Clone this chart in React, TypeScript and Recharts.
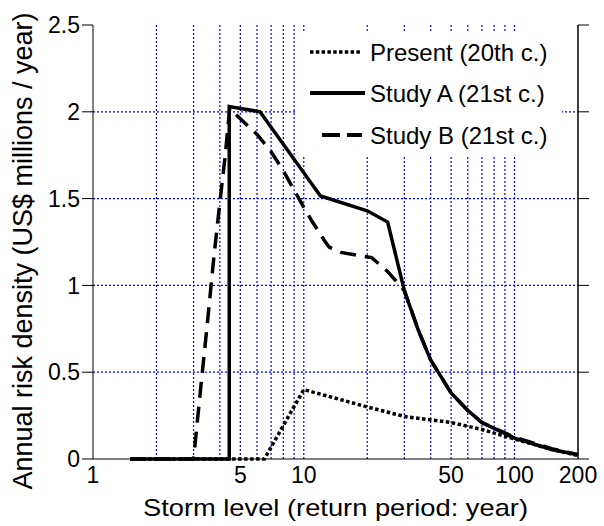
import React from 'react';
import { LineChart, Line, XAxis, YAxis, ReferenceLine, Legend } from 'recharts';

// ---- data ----
const presentX = [1.5, 2, 3, 4, 5, 6.5, 10, 20, 30, 50, 70, 100, 150, 200];
const presentY = [0, 0, 0, 0, 0, 0, 0.4, 0.3, 0.245, 0.21, 0.17, 0.115, 0.055, 0.02];

const studyAX = [1.5, 4.43, 4.43, 6.2, 12, 20, 25, 30, 35, 40, 50, 60, 70, 100, 150, 200];
const studyAY = [0, 0, 2.03, 2.0, 1.515, 1.43, 1.365, 0.97, 0.74, 0.57, 0.38, 0.28, 0.21, 0.12, 0.055, 0.025];

const studyBX = [1.5, 3, 3.25, 3.5, 3.75, 4, 4.25, 4.45, 5, 6, 7, 8, 10, 11, 12.5, 13.2, 15, 21, 25, 30, 35, 40, 50, 60, 70, 100, 150, 200];
const studyBY = [0, 0, 0.42, 0.8, 1.17, 1.48, 1.76, 2.02, 1.96, 1.87, 1.77, 1.66, 1.45, 1.365, 1.26, 1.22, 1.19, 1.16, 1.08, 0.97, 0.74, 0.57, 0.38, 0.28, 0.21, 0.125, 0.06, 0.025];

const seriesNames = ['Present (20th c.)', 'Study A (21st c.)', 'Study B (21st c.)'];

// ---- ticks / grid ----
const xTickLabels = [1, 5, 10, 50, 100, 200];
const xMinorTicks = [2, 3, 4, 5, 6, 7, 8, 9, 10, 20, 30, 40, 50, 60, 70, 80, 90, 100];
const xGrid = [2, 3, 4, 5, 6, 7, 8, 9, 10, 20, 30, 40, 50, 60, 70, 80, 90, 100];
const yTicks = [0, 0.5, 1, 1.5, 2, 2.5];
const yMinorTicks = [0.1, 0.2, 0.3, 0.4, 0.6, 0.7, 0.8, 0.9, 1.1, 1.2, 1.3, 1.4, 1.6, 1.7, 1.8, 1.9, 2.1, 2.2, 2.3, 2.4];
const yGrid = [0.5, 1, 1.5, 2];

const xTitle = 'Storm level (return period: year)';
const yTitle = 'Annual risk density (US$ millions / year)';

const toPoints = (xs: number[], ys: number[]) => xs.map((x, i) => ({ x, y: ys[i] }));
const presentData = toPoints(presentX, presentY);
const studyAData = toPoints(studyAX, studyAY);
const studyBData = toPoints(studyBX, studyBY);

const FONT = '"Liberation Sans", Arial, Helvetica, sans-serif';
const GRID = '#0000ff';
const empty = () => '';

const XTitle = (props: any) => {
  const vb = props.viewBox || { x: 93, y: 459, width: 485, height: 50 };
  return (
    <text
      x={vb.x + vb.width / 2}
      y={vb.y + 57}
      textAnchor="middle"
      fontSize={24}
      fill="#000"
      fontFamily={FONT}
      textLength={385}
      lengthAdjust="spacingAndGlyphs"
    >
      {xTitle}
    </text>
  );
};

const YTitle = (props: any) => {
  const vb = props.viewBox || { x: 33, y: 25, width: 60, height: 434 };
  const cx = vb.x - 1;
  const cy = vb.y + vb.height / 2 + 9;
  return (
    <text
      transform={`translate(${cx},${cy}) rotate(-90)`}
      x={0}
      y={0}
      textAnchor="middle"
      fontSize={27}
      fill="#000"
      fontFamily={FONT}
    >
      {yTitle}
    </text>
  );
};

const LegendBox = () => {
  const rows = [21, 62, 104];
  return (
    <svg width={266} height={126} style={{ display: 'block' }}>
      <line x1={14} x2={66} y1={rows[0]} y2={rows[0]} stroke="#000" strokeWidth={3.5} strokeDasharray="3.5 2.3" />
      <line x1={14} x2={69} y1={rows[1]} y2={rows[1]} stroke="#000" strokeWidth={4} />
      <line x1={26} x2={66} y1={rows[2]} y2={rows[2]} stroke="#000" strokeWidth={4} strokeDasharray="18 7" />
      {seriesNames.map((n, i) => (
        <text key={n} x={74} y={rows[i] + 8.5} fontSize={24} fill="#000" fontFamily={FONT}>
          {n}
        </text>
      ))}
    </svg>
  );
};

export default function App() {
  return (
    <div style={{ position: 'absolute', left: 0, top: 0, width: 604, height: 526, background: '#fff' }}>
      <LineChart
        width={604}
        height={526}
        margin={{ top: 25, right: 16, bottom: 17, left: 33 }}
        style={{ fontFamily: FONT }}
      >
        {/* main bottom axis with labels */}
        <XAxis
          xAxisId="b"
          dataKey="x"
          type="number"
          scale="log"
          domain={[1, 200]}
          ticks={xTickLabels}
          tickLine={false}
          tickSize={0}
          tickMargin={8}
          height={50}
          axisLine={{ stroke: '#000', strokeWidth: 1 }}
          tick={{ fill: '#000', fontSize: 23, fontFamily: FONT }}
          label={XTitle}
        />
        {/* inward minor ticks at bottom */}
        <XAxis
          xAxisId="bm"
          type="number"
          scale="log"
          domain={[1, 200]}
          allowDataOverflow
          orientation="bottom"
          mirror
          ticks={xMinorTicks}
          tickSize={5}
          tickFormatter={empty}
          axisLine={false}
          tickLine={{ stroke: '#000' }}
          height={0}
        />
        {/* top border with inward ticks */}
        <XAxis
          xAxisId="t"
          type="number"
          scale="log"
          domain={[1, 200]}
          allowDataOverflow
          orientation="top"
          mirror
          ticks={xMinorTicks}
          tickSize={5}
          tickFormatter={empty}
          axisLine={{ stroke: '#000', strokeWidth: 1 }}
          tickLine={{ stroke: '#000' }}
          height={0}
        />
        {/* left main axis */}
        <YAxis
          yAxisId="l"
          type="number"
          domain={[0, 2.5]}
          ticks={yTicks}
          tickSize={11}
          tickMargin={2}
          width={60}
          axisLine={{ stroke: '#000', strokeWidth: 1 }}
          tickLine={{ stroke: '#000' }}
          tick={{ fill: '#000', fontSize: 23, fontFamily: FONT }}
          label={YTitle}
        />
        <YAxis
          yAxisId="lm"
          type="number"
          domain={[0, 2.5]}
          allowDataOverflow
          mirror
          ticks={yMinorTicks}
          tickSize={6}
          tickFormatter={empty}
          axisLine={false}
          tickLine={{ stroke: '#000' }}
          width={0}
        />
        {/* right border */}
        <YAxis
          yAxisId="r"
          orientation="right"
          type="number"
          domain={[0, 2.5]}
          allowDataOverflow
          ticks={yTicks}
          tickSize={11}
          tickFormatter={empty}
          width={10}
          axisLine={{ stroke: '#000', strokeWidth: 1.5 }}
          tickLine={{ stroke: '#000' }}
        />
        <YAxis
          yAxisId="rm"
          orientation="right"
          mirror
          type="number"
          domain={[0, 2.5]}
          allowDataOverflow
          ticks={yTicks}
          tickSize={10}
          tickFormatter={empty}
          width={0}
          axisLine={false}
          tickLine={{ stroke: '#000' }}
        />
        <YAxis
          yAxisId="rm2"
          orientation="right"
          mirror
          type="number"
          domain={[0, 2.5]}
          allowDataOverflow
          ticks={yMinorTicks}
          tickSize={6}
          tickFormatter={empty}
          width={0}
          axisLine={false}
          tickLine={{ stroke: '#000' }}
        />

        {xGrid.map((v) => (
          <ReferenceLine
            key={`gx${v}`}
            xAxisId="b"
            yAxisId="l"
            x={v}
            stroke={GRID}
            strokeWidth={1.2}
            strokeDasharray="2 2"
          />
        ))}
        {yGrid.map((v) => (
          <ReferenceLine
            key={`gy${v}`}
            xAxisId="b"
            yAxisId="l"
            y={v}
            stroke={GRID}
            strokeWidth={1.2}
            strokeDasharray="2 2"
          />
        ))}

        <Line
          xAxisId="b"
          yAxisId="l"
          data={presentData}
          dataKey="y"
          name={seriesNames[0]}
          type="linear"
          stroke="#000"
          strokeWidth={3.5}
          strokeDasharray="3.5 2.5"
          dot={false}
          activeDot={false}
          isAnimationActive={false}
        />
        <Line
          xAxisId="b"
          yAxisId="l"
          data={studyAData}
          dataKey="y"
          name={seriesNames[1]}
          type="linear"
          stroke="#000"
          strokeWidth={3.5}
          dot={false}
          activeDot={false}
          isAnimationActive={false}
        />
        <Line
          xAxisId="b"
          yAxisId="l"
          data={studyBData}
          dataKey="y"
          name={seriesNames[2]}
          type="linear"
          stroke="#000"
          strokeWidth={3.5}
          strokeDasharray="16 9"
          dot={false}
          activeDot={false}
          isAnimationActive={false}
        />

        <Legend
          layout="horizontal"
          verticalAlign="middle"
          align="center"
          wrapperStyle={{ position: 'absolute', left: 296, top: 31, width: 266, height: 126, background: '#fff', margin: 0, padding: 0 }}
          content={() => <LegendBox />}
        />
      </LineChart>
    </div>
  );
}
